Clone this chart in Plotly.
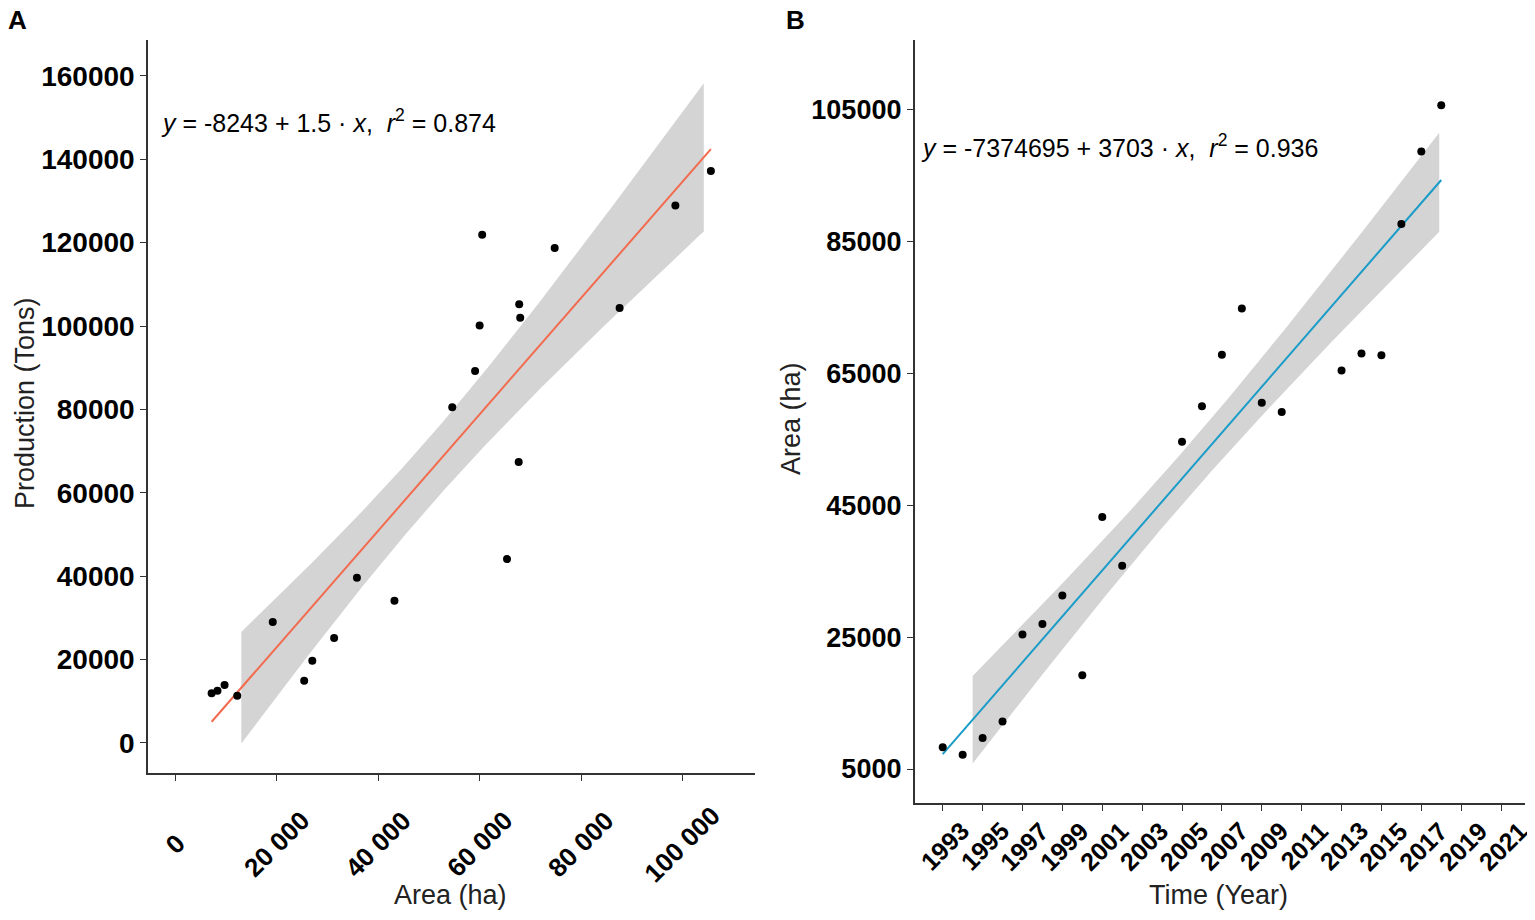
import numpy as np
import plotly.graph_objects as go

# ---------------- data ----------------
years = [1993, 1994, 1995, 1996, 1997, 1998, 1999, 2000, 2001, 2002,
         2005, 2006, 2007, 2008, 2009, 2010, 2013, 2014, 2015, 2016, 2017, 2018]
area_ha = [8300, 7150, 9700, 12200, 25400, 27000, 31300, 19200, 43200, 35800,
           54600, 60000, 67800, 74800, 60500, 59100, 65400, 68000, 67700, 87600, 98600, 105600]
production_t = [12500, 11900, 13900, 11300, 14900, 19700, 25200, 29000, 34100, 39600,
                80500, 100100, 105200, 118700, 121900, 89200, 44100, 102000, 67400, 104300, 128900, 137200]

a_xticks = [0, 20000, 40000, 60000, 80000, 100000]
a_xticktext = ["0", "20 000", "40 000", "60 000", "80 000", "100 000"]
a_yticks = [0, 20000, 40000, 60000, 80000, 100000, 120000, 140000, 160000]
b_xticks = list(range(1993, 2022, 2))
b_yticks = [5000, 25000, 45000, 65000, 85000, 105000]

eq_a = "<i>y</i> = -8243 + 1.5 \u00b7 <i>x</i>,\u00a0\u00a0<i>r</i><sup>2</sup> = 0.874"
eq_b = "<i>y</i> = -7374695 + 3703 \u00b7 <i>x</i>,\u00a0\u00a0<i>r</i><sup>2</sup> = 0.936"

# band extents as drawn in the original
band_a = (13000, 104200)
band_b = (1994.5, 2017.9)

T_CRIT = 2.086  # t(0.975, df=20)


def fit(x, y):
    x = np.asarray(x, float)
    y = np.asarray(y, float)
    b1, b0 = np.polyfit(x, y, 1)
    n = len(x)
    res = y - (b0 + b1 * x)
    s = np.sqrt(np.sum(res ** 2) / (n - 2))
    xm = x.mean()
    sxx = np.sum((x - xm) ** 2)
    return b0, b1, s, xm, sxx, n


def band(x, y, lo, hi):
    b0, b1, s, xm, sxx, n = fit(x, y)
    g = np.linspace(lo, hi, 120)
    yh = b0 + b1 * g
    se = s * np.sqrt(1.0 / n + (g - xm) ** 2 / sxx)
    return g, yh - T_CRIT * se, yh + T_CRIT * se


def line(x, y):
    b0, b1, *_ = fit(x, y)
    g = np.linspace(min(x), max(x), 120)
    return g, b0 + b1 * g


# page has an 8px body margin: lay out in reference pixels shifted by it
OFF = 8
W, H = 1535 - OFF, 920 - OFF


def px(x):
    return (x - OFF) / W


def py(y):
    return 1 - (y - OFF) / H


fig = go.Figure()

BAND_COL = "#D4D4D4"
RED = "#F26B4F"
BLUE = "#1A9CC8"

# Panel A
g, lo, hi = band(area_ha, production_t, *band_a)
fig.add_trace(go.Scatter(x=np.concatenate([g, g[::-1]]), y=np.concatenate([hi, lo[::-1]]),
                         fill="toself", fillcolor=BAND_COL, line=dict(width=0),
                         mode="lines", hoverinfo="skip", xaxis="x", yaxis="y"))
g, yh = line(area_ha, production_t)
fig.add_trace(go.Scatter(x=g, y=yh, mode="lines", line=dict(color=RED, width=2),
                         xaxis="x", yaxis="y"))
fig.add_trace(go.Scatter(x=area_ha, y=production_t, mode="markers",
                         marker=dict(color="black", size=8), xaxis="x", yaxis="y"))

# Panel B
g, lo, hi = band(years, area_ha, *band_b)
fig.add_trace(go.Scatter(x=np.concatenate([g, g[::-1]]), y=np.concatenate([hi, lo[::-1]]),
                         fill="toself", fillcolor=BAND_COL, line=dict(width=0),
                         mode="lines", hoverinfo="skip", xaxis="x2", yaxis="y2"))
g, yh = line(years, area_ha)
fig.add_trace(go.Scatter(x=g, y=yh, mode="lines", line=dict(color=BLUE, width=2),
                         xaxis="x2", yaxis="y2"))
fig.add_trace(go.Scatter(x=years, y=area_ha, mode="markers",
                         marker=dict(color="black", size=8), xaxis="x2", yaxis="y2"))

FAM = "Liberation Sans, Arial, sans-serif"
AX = dict(showgrid=False, zeroline=False, showline=True, linecolor="#333333", linewidth=1.5,
          ticks="outside", ticklen=6, tickwidth=1.2, tickcolor="#333333",
          automargin=False, mirror=False)

fig.update_layout(
    width=W, height=H,
    margin=dict(l=0, r=0, t=0, b=0),
    paper_bgcolor="white", plot_bgcolor="white",
    showlegend=False,
    xaxis=dict(AX, domain=[px(148), px(755)], range=[-5400, 114300],
               tickvals=a_xticks, showticklabels=False, anchor="y"),
    yaxis=dict(AX, domain=[py(773), py(40)], range=[-7200, 168600],
               tickvals=a_yticks, ticktext=[str(v) for v in a_yticks], anchor="x",
               tickfont=dict(family=FAM, size=28, color="black", weight="bold")),
    xaxis2=dict(AX, domain=[px(914.6), px(1525)], range=[1991.59, 2022.2],
                tickvals=b_xticks, showticklabels=False, anchor="y2"),
    yaxis2=dict(AX, domain=[py(803), py(40)], range=[-150, 115500],
                tickvals=b_yticks, ticktext=[str(v) for v in b_yticks], anchor="x2",
                tickfont=dict(family=FAM, size=27, color="black", weight="bold")),
)

TFONT = dict(family=FAM, size=27, color="#222222")
EQFONT = dict(family=FAM, size=25, color="black")
PFONT = dict(family=FAM, size=26, color="black", weight="bold")
XTA = dict(family=FAM, size=26, color="black", weight="bold")
XTB = dict(family=FAM, size=25, color="black", weight="bold")

ann = [
    dict(text="Production (Tons)", x=px(25), y=py(403), textangle=-90, font=TFONT),
    dict(text="Area (ha)", x=px(450), y=py(895), font=TFONT),
    dict(text="Area (ha)", x=px(791), y=py(418), textangle=-90, font=TFONT),
    dict(text="Time (Year)", x=px(1218), y=py(895), font=TFONT),
    dict(text=eq_a, x=px(160), y=py(121), xanchor="left", font=EQFONT),
    dict(text=eq_b, x=px(920), y=py(146), xanchor="left", font=EQFONT),
    dict(text="A", x=px(7), y=py(20), xanchor="left", font=PFONT),
    dict(text="B", x=px(785), y=py(20), xanchor="left", font=PFONT),
]
for a in ann:
    a.setdefault("xanchor", "center")
    a.update(xref="paper", yref="paper")

# rotated x tick labels centred under their ticks (as in the original)
for v, t in zip(a_xticks, a_xticktext):
    ann.append(dict(text=t, x=v, xref="x", y=py(844), yref="paper", textangle=-45,
                    xanchor="center", font=XTA))
for v in b_xticks:
    ann.append(dict(text=str(v), x=v, xref="x2", y=py(846), yref="paper", textangle=-45,
                    xanchor="center", xshift=2, font=XTB))

for a in ann:
    a.update(yanchor="middle", showarrow=False, borderpad=0)
fig.update_layout(annotations=ann)

fig.write_html("out.html")
